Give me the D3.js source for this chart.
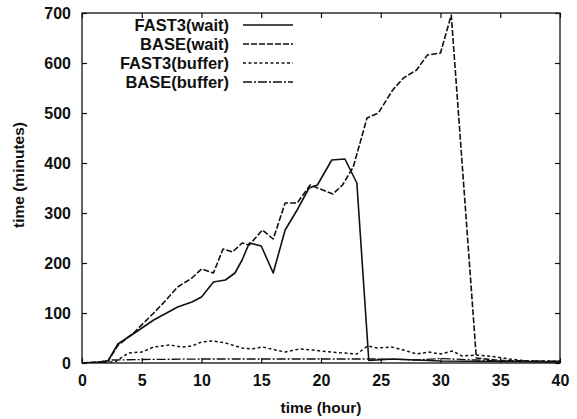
<!DOCTYPE html>
<html>
<head>
<meta charset="utf-8">
<script src="https://cdn.jsdelivr.net/npm/d3@7"></script>
<style>
  html, body { margin: 0; padding: 0; background: #fff; }
  svg text { font-family: "Liberation Sans", Arial, sans-serif; fill: #111; }
</style>
</head>
<body>
<div id="chart"></div>
<script>
/* Waiting time and buffer time per hour, FAST3 vs BASE. */
const xTicks = [0, 5, 10, 15, 20, 25, 30, 35, 40];
const yTicks = [0, 100, 200, 300, 400, 500, 600, 700];

const seriesNames = ['FAST3(wait)', 'BASE(wait)', 'FAST3(buffer)', 'BASE(buffer)'];

const fast3WaitHours = [0, 1.5, 2.2, 3, 4.4, 6, 8, 9.2, 10, 11, 12, 12.8, 13.4, 14, 15, 16, 17, 18, 19, 19.7, 20.9, 22, 23, 24, 26, 30, 35, 40];
const fast3WaitValues = [0, 2, 5, 38, 60, 86, 112, 122, 132, 162, 166, 180, 206, 240, 234, 180, 266, 306, 350, 356, 406, 408, 360, 5, 8, 4, 3, 2];

const baseWaitHours = [0, 1.5, 2.2, 3, 4.4, 6, 7, 8, 9.2, 10, 11, 11.8, 12.6, 13.4, 14, 15.1, 16, 17, 18, 19.1, 21, 21.8, 22.7, 23.85, 24.8, 26, 26.9, 28, 28.9, 30, 30.9, 33, 35, 40];
const baseWaitValues = [0, 2, 5, 35, 62, 100, 125, 152, 170, 188, 180, 228, 222, 240, 236, 266, 248, 320, 320, 356, 338, 356, 392, 490, 500, 546, 570, 586, 616, 620, 696, 10, 5, 3];

const fast3BufferHours = [0, 2, 2.8, 3.9, 5, 6, 7.3, 8.4, 9.2, 10, 11, 12, 13.4, 14.2, 15.1, 16.2, 17, 18.2, 19.2, 20.8, 23, 23.9, 24.7, 25.9, 26.9, 28, 29, 30, 31, 31.8, 33, 34.7, 35.8, 37.2, 40];
const fast3BufferValues = [0, 1, 3, 20, 22, 32, 36, 32, 34, 42, 44, 40, 30, 28, 32, 26, 22, 28, 26, 22, 18, 34, 30, 32, 26, 18, 22, 18, 24, 14, 16, 12, 8, 4, 4];

const baseBufferHours = [0, 2, 2.5, 5, 10, 15, 20, 25, 28, 30, 33, 35, 40];
const baseBufferValues = [0, 2, 6, 7, 8, 8, 8, 8, 6, 9, 6, 4, 2];

const W = 577, H = 419;
const margin = { left: 82, right: 17, top: 13, bottom: 56 };
const iw = W - margin.left - margin.right, ih = H - margin.top - margin.bottom;

const svg = d3.select('#chart').append('svg').attr('width', W).attr('height', H);
const g = svg.append('g').attr('transform', 'translate(' + margin.left + ',' + margin.top + ')');

const x = d3.scaleLinear().domain([0, 40]).range([0, iw]);
const y = d3.scaleLinear().domain([0, 700]).range([ih, 0]);

// frame with inward ticks on all four sides
g.append('rect').attr('width', iw).attr('height', ih)
  .attr('fill', 'none').attr('stroke', '#111').attr('stroke-width', 1.3);

const tl = 5;
g.append('g').attr('transform', 'translate(0,' + ih + ')')
  .call(d3.axisBottom(x).tickValues(xTicks).tickSize(-tl).tickPadding(12).tickFormat(d3.format('d')));
g.append('g')
  .call(d3.axisTop(x).tickValues(xTicks).tickSize(-tl).tickFormat(''));
g.append('g')
  .call(d3.axisLeft(y).tickValues(yTicks).tickSize(-tl).tickPadding(11).tickFormat(d3.format('d')));
g.append('g').attr('transform', 'translate(' + iw + ',0)')
  .call(d3.axisRight(y).tickValues(yTicks).tickSize(-tl).tickFormat(''));

g.selectAll('.domain').remove();
g.selectAll('.tick line').attr('stroke', '#111').attr('stroke-width', 1.2);
g.selectAll('.tick text').style('font-size', '16px').style('font-weight', 'bold').attr('fill', '#111');

// axis titles
svg.append('text').attr('x', margin.left + iw / 2).attr('y', 413)
  .attr('text-anchor', 'middle').style('font-size', '15.5px').style('font-weight', 'bold')
  .text('time (hour)');
svg.append('text').attr('transform', 'translate(24,175) rotate(-90)')
  .attr('text-anchor', 'middle').style('font-size', '15.5px').style('font-weight', 'bold')
  .text('time (minutes)');

const styles = [
  { dash: null, width: 1.6 },
  { dash: '6,2', width: 1.6 },
  { dash: '3,2.5', width: 1.5 },
  { dash: '9,2,2,2', width: 1.3 }
];

const series = [
  d3.zip(fast3WaitHours, fast3WaitValues),
  d3.zip(baseWaitHours, baseWaitValues),
  d3.zip(fast3BufferHours, fast3BufferValues),
  d3.zip(baseBufferHours, baseBufferValues)
];

const line = d3.line().x(d => x(d[0])).y(d => y(d[1]));

g.append('clipPath').attr('id', 'clip').append('rect').attr('width', iw).attr('height', ih);

series.forEach((pts, i) => {
  g.append('path').datum(pts)
    .attr('clip-path', 'url(#clip)')
    .attr('d', line)
    .attr('fill', 'none')
    .attr('stroke', '#111')
    .attr('stroke-width', styles[i].width)
    .attr('stroke-linejoin', 'round')
    .attr('stroke-dasharray', styles[i].dash);
});

// legend
const legend = svg.append('g');
seriesNames.forEach((name, i) => {
  const ly = 25 + i * 19;
  legend.append('text').attr('x', 229).attr('y', ly).attr('dy', '0.35em')
    .attr('text-anchor', 'end').style('font-size', '16.5px').style('font-weight', 'bold')
    .text(name);
  legend.append('line').attr('x1', 243).attr('x2', 293).attr('y1', ly).attr('y2', ly)
    .attr('stroke', '#111').attr('stroke-width', styles[i].width)
    .attr('stroke-dasharray', styles[i].dash);
});
</script>
</body>
</html>
